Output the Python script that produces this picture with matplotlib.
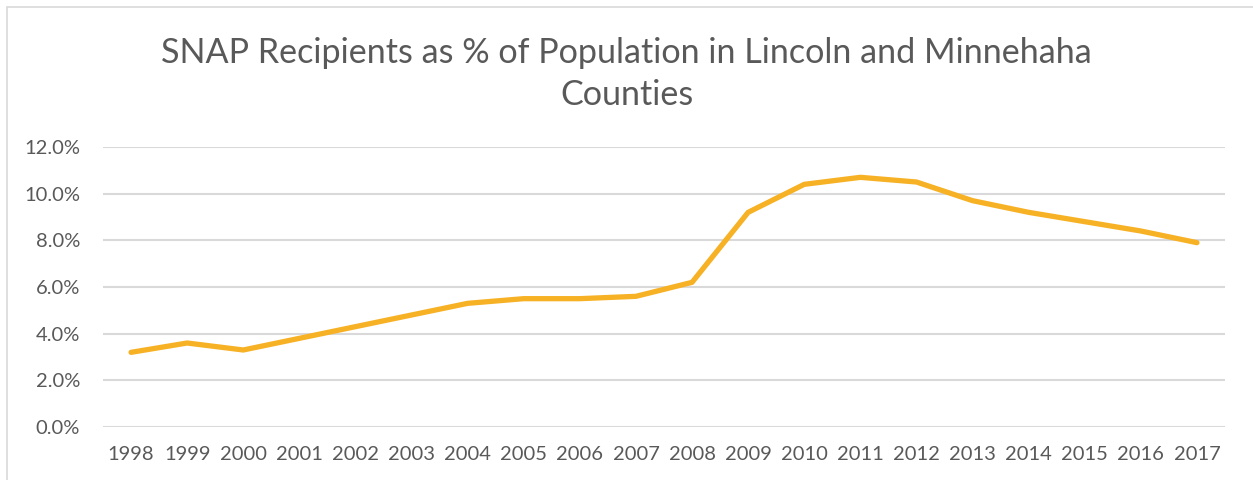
import matplotlib
matplotlib.use("Agg")
import matplotlib.pyplot as plt
from matplotlib.patches import Rectangle
from matplotlib.ticker import FuncFormatter

# SNAP recipients as share of population (%)
years = ["1998", "1999", "2000", "2001", "2002", "2003", "2004", "2005", "2006", "2007",
         "2008", "2009", "2010", "2011", "2012", "2013", "2014", "2015", "2016", "2017"]
snap_pct = [3.2, 3.6, 3.3, 3.8, 4.3, 4.8, 5.3, 5.5, 5.5, 5.6,
            6.2, 9.2, 10.4, 10.7, 10.5, 9.7, 9.2, 8.8, 8.4, 7.9]
yticks = [0, 2, 4, 6, 8, 10, 12]

text_col = "#595959"
grid_col = "#D9D9D9"
line_col = "#F7B125"

plt.rcParams["font.family"] = ["Lato", "DejaVu Sans"]

fig = plt.figure(figsize=(12.53, 4.8), dpi=100)
# chart frame (cropped on right and bottom in the reference)
fig.patches.append(Rectangle((7 / 1253, -0.1), 1.2, 1.1 - 7 / 480, transform=fig.transFigure,
                             fill=False, edgecolor="#D9D9D9", linewidth=1.2))

ax = fig.add_axes([103 / 1253, 1 - 427 / 480, (1225 - 103) / 1253, (427 - 147) / 480])
x = list(range(len(years)))
ax.plot(x, snap_pct, color=line_col, linewidth=3.8, solid_capstyle="round", solid_joinstyle="round", zorder=3)

ax.set_xlim(-0.5, len(years) - 0.5)
ax.set_ylim(0, 12)
ax.set_yticks(yticks)
ax.yaxis.set_major_formatter(FuncFormatter(lambda v, p: "%.1f%%" % v))
ax.set_xticks(x)
ax.set_xticklabels(years)
ax.grid(axis="y", color=grid_col, linewidth=1.5)
ax.set_axisbelow(True)
for s in ax.spines.values():
    s.set_visible(False)
ax.tick_params(axis="both", length=0, colors=text_col, labelsize=14.5)
ax.tick_params(axis="y", pad=16.5)
ax.tick_params(axis="x", pad=14)

fig.text(0.5, 1 - 74 / 480, "SNAP Recipients as % of Population in Lincoln and Minnehaha\nCounties",
         ha="center", va="center", fontsize=24.6, color=text_col, linespacing=1.42)

fig.savefig("out.png", dpi=100, facecolor="white")
